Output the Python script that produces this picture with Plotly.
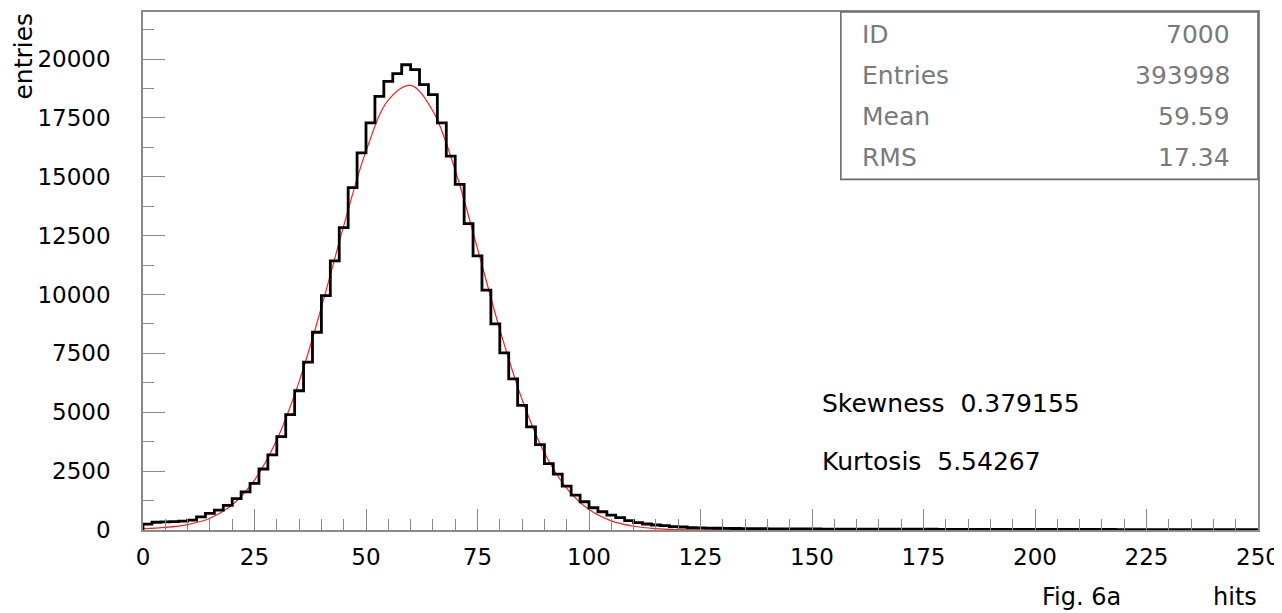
import numpy as np
import plotly.graph_objects as go

# ---------------- data ----------------
bin_width = 2.0
hist_counts = [
    250, 330, 345, 355, 380, 423, 560, 706, 840, 1050,
    1330, 1623, 1976, 2590, 3190, 3965, 4898, 5915, 7128, 8398,
    9951, 11433, 12845, 14538, 16020, 17290, 18420, 19055, 19380, 19760,
    19550, 18914, 18490, 17290, 15880, 14680, 13014, 11645, 10191, 8751,
    7523, 6422, 5293, 4376, 3628, 2823, 2371, 1863, 1482, 1200,
    946, 776, 635, 522, 395, 310, 254, 212, 183, 141,
    127, 96, 88, 80, 74, 69, 64, 60, 57, 54,
    51, 49, 47, 45, 44, 42, 41, 40, 39, 38,
    37, 36, 35, 35, 34, 33, 32, 32, 31, 30,
    30, 29, 28, 28, 27, 27, 26, 26, 25, 25,
    24, 24, 23, 23, 22, 22, 22, 21, 21, 20,
    20, 20, 19, 19, 19, 18, 18, 18, 17, 17,
    17, 16, 16, 16, 15,
]

fit_x = [0, 5, 10, 15, 20, 25, 30, 35, 40, 45, 50, 55, 60, 65, 70, 75, 80, 85, 90,
         95, 100, 105, 110, 115, 120, 125, 130, 135, 140, 150, 160, 170, 180,
         190, 200, 210, 220, 230, 240, 250]
fit_y = [60, 110, 230, 500, 1070, 2120, 3830, 6300, 9450, 12920, 16090, 18260,
         18880, 17790, 15280, 11950, 8520, 5540, 3280, 1770, 870, 390, 160, 60,
         20, 6, 2, 1, 0, 0, 0, 0, 0, 0, 0, 0, 0, 0, 0, 0]

stat_labels = ["ID", "Entries", "Mean", "RMS"]
stat_values = ["7000", "393998", "59.59", "17.34"]

extra_texts = ["Skewness  0.379155", "Kurtosis  5.54267"]

x_ticks = [0, 25, 50, 75, 100, 125, 150, 175, 200, 225, 250]
y_ticks = [0, 2500, 5000, 7500, 10000, 12500, 15000, 17500, 20000]

# ---------------- build histogram outline ----------------
edges = np.arange(len(hist_counts) + 1) * bin_width
hx = [0.0] + list(edges[:-1]) + [edges[-1]]
hy = [0.0] + hist_counts + [hist_counts[-1]]

fig = go.Figure()
fig.add_trace(go.Scatter(x=fit_x, y=fit_y, mode="lines",
                         line=dict(color="#ff2020", width=1.2, shape="spline"),
                         hoverinfo="skip", showlegend=False))
fig.add_trace(go.Scatter(x=hx, y=hy, mode="lines",
                         line=dict(color="black", width=2.8, shape="hv"),
                         showlegend=False))

axis_col = "#8a8a8a"
tick_font = dict(family="DejaVu Sans", size=23, color="black")

fig.update_xaxes(range=[0, 250], tickvals=x_ticks, tickformat="d",
                 ticks="inside", ticklen=21, tickwidth=1.3, tickcolor=axis_col,
                 minor=dict(dtick=5, tick0=0, ticks="inside", ticklen=11,
                            tickwidth=1.3, tickcolor=axis_col),
                 showline=True, mirror=True, linecolor=axis_col, linewidth=1.6,
                 showgrid=False, zeroline=False, tickfont=tick_font,
                 ticklabelstandoff=6, ticklabeloverflow="allow")
fig.update_yaxes(range=[0, 22000], tickvals=y_ticks, tickformat="d",
                 ticks="inside", ticklen=22, tickwidth=1.3, tickcolor=axis_col,
                 minor=dict(dtick=1250, tick0=0, ticks="inside", ticklen=11,
                            tickwidth=1.3, tickcolor=axis_col),
                 showline=True, mirror=True, linecolor=axis_col, linewidth=1.6,
                 showgrid=False, zeroline=False, tickfont=tick_font,
                 ticklabelstandoff=26, ticklabeloverflow="allow")

# target plot-area in page pixels (page has an 8px body margin)
OFF = 8
L, R, T, B = 143, 1255, 10, 530
PW, PH = 1282, 613
W, H = PW - OFF, PH - OFF


def px(x):
    return (x - L) / (R - L)


def py(y):
    return (B - y) / (B - T)


ann = []
ann.append(dict(text="entries", x=px(24), y=py(54), textangle=-90,
                font=dict(family="DejaVu Sans", size=25, color="black")))
ann.append(dict(text="Fig. 6a", x=px(1079), y=py(597),
                font=dict(family="DejaVu Sans", size=24, color="black")))
ann.append(dict(text="hits", x=px(1232), y=py(597),
                font=dict(family="DejaVu Sans", size=24, color="black")))
for t, yy in zip(extra_texts, [403, 461]):
    ann.append(dict(text=t, x=px(818), y=py(yy), xanchor="left",
                    font=dict(family="DejaVu Sans", size=25, color="black")))
row_y = [33, 74, 115, 156]
stat_font = dict(family="DejaVu Sans", size=25, color="#7a7a7a")
for lab, val, yy in zip(stat_labels, stat_values, row_y):
    ann.append(dict(text=lab, x=px(858), y=py(yy), xanchor="left", font=stat_font))
    ann.append(dict(text=val, x=px(1229), y=py(yy), xanchor="right", font=stat_font))

for a in ann:
    a.update(xref="paper", yref="paper", showarrow=False, yanchor="middle")
    a.setdefault("xanchor", "center")

fig.update_layout(
    width=W, height=H, autosize=False,
    margin=dict(l=L - OFF, r=PW - R - OFF, t=T - OFF, b=PH - B, pad=0),
    paper_bgcolor="white", plot_bgcolor="white",
    annotations=ann,
    shapes=[dict(type="rect", xref="paper", yref="paper",
                 x0=px(839), x1=1, y0=py(178), y1=1,
                 line=dict(color="#6a6a6a", width=1.6), fillcolor="white",
                 layer="above")],
)

fig.write_html("out.html")
